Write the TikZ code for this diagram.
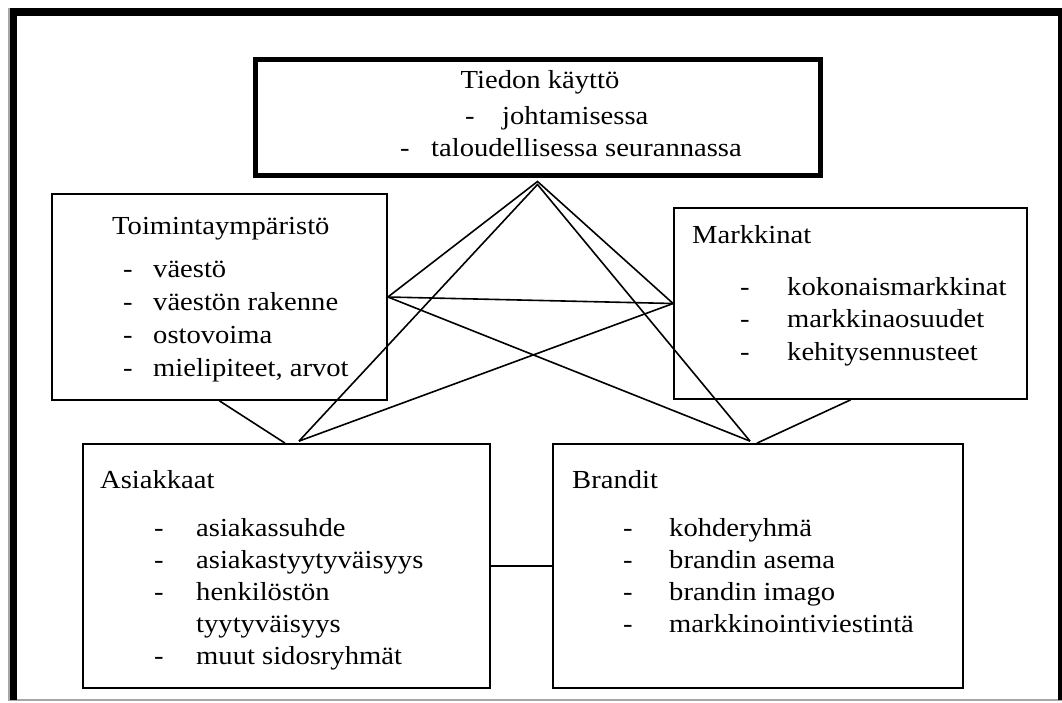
\documentclass[tikz,border=0pt]{standalone}
\usepackage{fontspec}
\setmainfont{Liberation Serif}[FakeStretch=1.1]
\usetikzlibrary{positioning}

\begin{document}
\begin{tikzpicture}[x=1pt,y=-1pt,
  box/.style={draw,line width=1.8pt,inner sep=0pt},
  link/.style={line width=1.6pt},
  txt/.style={inner sep=0pt,font=\fontsize{26}{28}\selectfont},
  head/.style={txt,anchor=base west},
  itemdash/.style={txt,anchor=base west},
  item/.style={txt,anchor=base west}]
\useasboundingbox (0,0) rectangle (1062,702);
% page frame
\draw[black!35,line width=1.2pt] (9,8)--(9,700)--(1062,700);
\fill (10,8) rectangle (1062,16);
\fill (10,8) rectangle (17,700);
\fill (1058,8) rectangle (1062,700);
% boxes
\node[box,line width=5pt,minimum width=565pt,minimum height=116pt] (tieto) at (537.5,117) {};
\node[box,minimum width=335pt,minimum height=206pt] (toim) at (219.5,297) {};
\node[box,minimum width=353pt,minimum height=191pt] (mark) at (850.5,303.5) {};
\node[box,minimum width=407pt,minimum height=244pt] (asiak) at (286.5,566) {};
\node[box,minimum width=410pt,minimum height=244pt] (brand) at (758,566) {};
% texts
\node[txt,anchor=base] (tietoh) at (540,88) {Tiedon käyttö};
\node[itemdash] (tietod1) at (465,124) {-};
\node[item] (tietoi1) at (502,124) {johtamisessa};
\node[itemdash] (tietod2) at (400,156) {-};
\node[item] (tietoi2) at (431,156) {taloudellisessa seurannassa};
\node[head] (toimh) at (112,234) {Toimintaympäristö};
\foreach \t [count=\i] in {väestö,väestön rakenne,ostovoima,{mielipiteet, arvot}}{
  \node[itemdash] (toimd\i) at (123,244+33*\i) {-};
  \node[item] (toimi\i) at (153,244+33*\i) {\t};
}
\node[head] (markh) at (692,243) {Markkinat};
\foreach \t [count=\i] in {kokonaismarkkinat,markkinaosuudet,kehitysennusteet}{
  \node[itemdash] (markd\i) at (740,262.5+32.5*\i) {-};
  \node[item] (marki\i) at (787,262.5+32.5*\i) {\t};
}
\node[head] (asiakh) at (100,488) {Asiakkaat};
\foreach \t [count=\i] in {asiakassuhde,asiakastyytyväisyys,henkilöstön}{
  \node[itemdash] (asiakd\i) at (154,504+32*\i) {-};
  \node[item] (asiaki\i) at (196,504+32*\i) {\t};
}
\node[item] (asiaki4) at (196,632) {tyytyväisyys};
\node[itemdash] (asiakd5) at (154,664) {-};
\node[item] (asiaki5) at (196,664) {muut sidosryhmät};
\node[head] (brandh) at (572,488) {Brandit};
\foreach \t [count=\i] in {kohderyhmä,brandin asema,brandin imago,markkinointiviestintä}{
  \node[itemdash] (brandd\i) at (623,504+32*\i) {-};
  \node[item] (brandi\i) at (669,504+32*\i) {\t};
}
% connectors
\coordinate (apex) at ([yshift=-4pt]tieto.south);
\coordinate (apex2) at ([yshift=-7pt]tieto.south);
\coordinate (asiakL) at ([xshift=-1.5pt]asiak.north);
\coordinate (asiakR) at ([xshift=12.5pt,yshift=2pt]asiak.north);
\coordinate (brandL) at ([xshift=-8pt,yshift=2pt]brand.north);
\coordinate (brandR) at ([xshift=-1pt]brand.north);
\draw[link] (toim.east)--(apex)--(mark.west);
\draw[link] (asiakR)--(apex2)--(brandL);
\draw[link] (toim.east)--(mark.west);
\draw[link] (toim.east)--(brandL);
\draw[link] (mark.west)--(asiakR);
\draw[link] (toim.south)--(asiakL);
\draw[link] (mark.south)--(brandR);
\draw[link] (asiak.east)--(brand.west);
\end{tikzpicture}
\end{document}
